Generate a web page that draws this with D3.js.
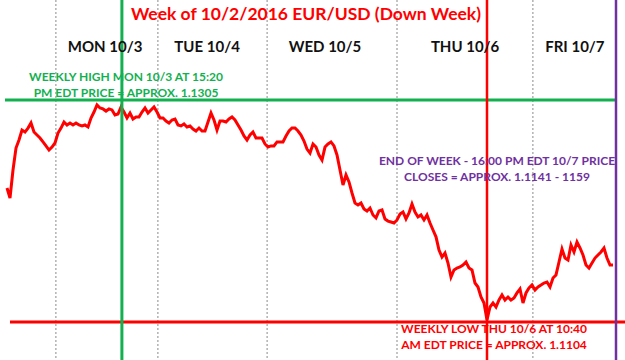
<!DOCTYPE html>
<html>
<head>
<meta charset="utf-8">
<script src="https://cdn.jsdelivr.net/npm/d3@7"></script>
<style>
  body { margin: 0; background: #fff; }
  svg { display: block; font-family: Lato, "Open Sans", sans-serif; }
</style>
</head>
<body>
<div id="chart"></div>
<script>
// EUR/USD, week of 10/2/2016, one price per sampled bar.
const prices = [
  1.12253, 1.12163, 1.12416, 1.12615, 1.12688, 1.12778, 1.12760, 1.12796, 1.12842, 1.12760,
  1.12733, 1.12706, 1.12670, 1.12634, 1.12597, 1.12624, 1.12661, 1.12751, 1.12796, 1.12851,
  1.12824, 1.12842, 1.12824, 1.12842, 1.12824, 1.12815, 1.12824, 1.12806, 1.12887, 1.12941,
  1.13005, 1.12978, 1.12969, 1.12950, 1.12969, 1.12960, 1.12914, 1.12923, 1.12987, 1.12941,
  1.12887, 1.12932, 1.12878, 1.12896, 1.12896, 1.12941, 1.12978, 1.12932, 1.12960, 1.12987,
  1.12941, 1.12887, 1.12887, 1.12860, 1.12842, 1.12869, 1.12878, 1.12824, 1.12815, 1.12833,
  1.12806, 1.12815, 1.12787, 1.12769, 1.12796, 1.12769, 1.12769, 1.12851, 1.12932, 1.12869,
  1.12778, 1.12860, 1.12860, 1.12851, 1.12878, 1.12896, 1.12869, 1.12824, 1.12778, 1.12724,
  1.12688, 1.12733, 1.12760, 1.12706, 1.12706, 1.12706, 1.12652, 1.12624, 1.12634, 1.12634,
  1.12670, 1.12670, 1.12670, 1.12724, 1.12769, 1.12796, 1.12796, 1.12769, 1.12733, 1.12679,
  1.12606, 1.12570, 1.12652, 1.12624, 1.12552, 1.12507, 1.12624, 1.12652, 1.12670, 1.12634,
  1.12552, 1.12416, 1.12280, 1.12371, 1.12308, 1.12208, 1.12117, 1.12099, 1.12117, 1.12063,
  1.12045, 1.12072, 1.12009, 1.11982, 1.12045, 1.12054, 1.11973, 1.11954, 1.11945, 1.11936,
  1.11964, 1.12018, 1.12036, 1.11973, 1.12027, 1.12108, 1.12036, 1.11991, 1.12009, 1.11964,
  1.12009, 1.11936, 1.11873, 1.11811, 1.11692, 1.11628, 1.11665, 1.11574, 1.11447, 1.11511,
  1.11529, 1.11538, 1.11556, 1.11583, 1.11529, 1.11511, 1.11393, 1.11357, 1.11266, 1.11212,
  1.11058, 1.11176, 1.11212, 1.11176, 1.11239, 1.11285, 1.11239, 1.11266, 1.11239, 1.11257,
  1.11303, 1.11339, 1.11212, 1.11303, 1.11348, 1.11375, 1.11330, 1.11357, 1.11375, 1.11393,
  1.11402, 1.11357, 1.11438, 1.11466, 1.11583, 1.11701, 1.11619, 1.11601, 1.11737, 1.11674,
  1.11764, 1.11710, 1.11647, 1.11556, 1.11529, 1.11574, 1.11619, 1.11647, 1.11674, 1.11710,
  1.11619, 1.11556, 1.11556
];

// session separators and day labels, in bar units
const sessionBreaks = [16.3, 50.3, 86.7, 130, 175.3];
const dayLabels = ["MON 10/3", "TUE 10/4", "WED 10/5", "THU 10/6", "FRI 10/7"];
const dayLabelPos = [32.7, 66.7, 106, 152.7, 189.3];

// key levels
const weeklyHigh = 1.1305;
const weeklyLow = 1.1104;
const highBar = 38.3;   // Mon 10/3 15:20
const lowBar = 160;     // Thu 10/6 10:40
const closeBar = 203;   // Fri 10/7 16:00

const title = "Week of 10/2/2016 EUR/USD (Down Week)";
const highNote = ["WEEKLY HIGH MON 10/3 AT 15:20", "PM EDT PRICE = APPROX. 1.1305"];
const closeNote = ["END OF WEEK - 16:00 PM EDT 10/7 PRICE", "CLOSES = APPROX. 1.1141 - 1159"];
const lowNote = ["WEEKLY LOW THU 10/6 AT 10:40", "AM EDT PRICE = APPROX. 1.1104"];

const width = 625, height = 360;
const green = "#13b050", red = "#ff0000", purple = "#7030a0";

const svg = d3.select("#chart").append("svg")
  .attr("width", width)
  .attr("height", height);

const x = d3.scaleLinear().domain([0, prices.length - 1]).range([7, 613]);
const y = d3.scaleLinear().domain([weeklyLow, weeklyHigh]).range([322, 100]);

// dotted session separators
svg.append("g").selectAll("line")
  .data(sessionBreaks)
  .join("line")
  .attr("x1", d => x(d)).attr("x2", d => x(d))
  .attr("y1", 0).attr("y2", height)
  .attr("stroke", "#8a8a8a")
  .attr("stroke-width", 1)
  .attr("stroke-dasharray", "2,2");

// price line
const line = d3.line()
  .x((d, i) => x(i))
  .y(d => y(d));

svg.append("path")
  .datum(prices)
  .attr("fill", "none")
  .attr("stroke", red)
  .attr("stroke-width", 3)
  .attr("stroke-linejoin", "miter")
  .attr("d", line);

// high / low / close markers
svg.append("line")
  .attr("x1", 5).attr("x2", x(closeBar))
  .attr("y1", y(weeklyHigh)).attr("y2", y(weeklyHigh))
  .attr("stroke", green).attr("stroke-width", 3);

svg.append("line")
  .attr("x1", 10).attr("x2", width)
  .attr("y1", y(weeklyLow)).attr("y2", y(weeklyLow))
  .attr("stroke", red).attr("stroke-width", 3);

svg.append("line")
  .attr("x1", x(highBar)).attr("x2", x(highBar))
  .attr("y1", 0).attr("y2", height)
  .attr("stroke", green).attr("stroke-width", 3);

svg.append("line")
  .attr("x1", x(lowBar)).attr("x2", x(lowBar))
  .attr("y1", 0).attr("y2", height)
  .attr("stroke", red).attr("stroke-width", 2.5);

svg.append("line")
  .attr("x1", x(closeBar)).attr("x2", x(closeBar))
  .attr("y1", 0).attr("y2", height)
  .attr("stroke", purple).attr("stroke-width", 2.5);

// title
svg.append("text")
  .attr("x", 306).attr("y", 20)
  .attr("text-anchor", "middle")
  .attr("font-size", 17.5)
  .attr("font-weight", "bold")
  .attr("fill", red)
  .text(title);

// day labels
svg.append("g").selectAll("text")
  .data(dayLabels)
  .join("text")
  .attr("x", (d, i) => x(dayLabelPos[i]))
  .attr("y", 52)
  .attr("text-anchor", "middle")
  .attr("font-size", 15)
  .attr("font-weight", "bold")
  .attr("fill", "#111")
  .text(d => d);

// annotations
const note = (lines, cx, y0, color) => {
  svg.append("g").selectAll("text")
    .data(lines)
    .join("text")
    .attr("x", cx)
    .attr("y", (d, i) => y0 + i * 16)
    .attr("text-anchor", "middle")
    .attr("font-size", 12)
    .attr("font-weight", "bold")
    .attr("fill", color)
    .text(d => d);
};

note(highNote, 126, 81, green);
note(closeNote, 497, 165, purple);
note(lowNote, 494, 333, red);
</script>
</body>
</html>
